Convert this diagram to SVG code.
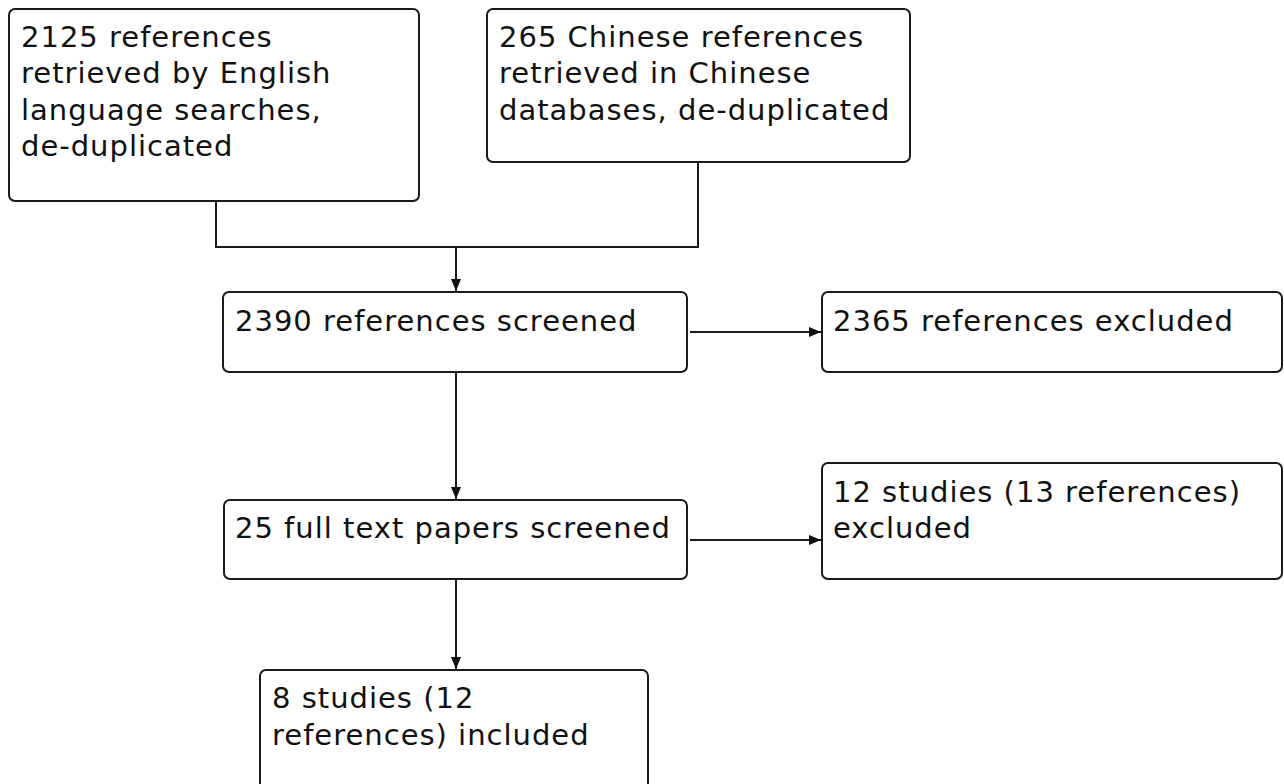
<svg xmlns="http://www.w3.org/2000/svg" width="1284" height="784" viewBox="0 0 1284 784">
<style>
.box{fill:#fff;stroke:#1a1a1a;stroke-width:2}
.t{font-family:"DejaVu Sans",sans-serif;font-size:29px;letter-spacing:1px;fill:#111}
.c{fill:none;stroke:#1a1a1a;stroke-width:2}
</style>
<defs>
<marker id="ah" viewBox="0 0 12 10" refX="12" refY="5" markerWidth="6" markerHeight="5" orient="auto" markerUnits="strokeWidth">
<path d="M0,0 L12,5 L0,10 z" fill="#111"/>
</marker>
</defs>
<rect width="1284" height="784" fill="#fff"/>
<g id="connectors">
<path class="c" d="M216,201 V247 H698 V162"/>
<path class="c" d="M456,247 V291" marker-end="url(#ah)"/>
<path class="c" d="M690,332 H821" marker-end="url(#ah)"/>
<path class="c" d="M456,372 V499" marker-end="url(#ah)"/>
<path class="c" d="M690,540 H821" marker-end="url(#ah)"/>
<path class="c" d="M456,579 V669" marker-end="url(#ah)"/>
</g>
<g id="n1">
<rect class="box" x="9" y="9" width="410" height="192" rx="6"/>
<text class="t" x="21" y="46.5">2125 references</text>
<text class="t" x="21" y="83">retrieved by English</text>
<text class="t" x="21" y="119.5">language searches,</text>
<text class="t" x="21" y="156">de-duplicated</text>
</g>
<g id="n2">
<rect class="box" x="487" y="9" width="423" height="153" rx="6"/>
<text class="t" x="499" y="46.5">265 Chinese references</text>
<text class="t" x="499" y="83">retrieved in Chinese</text>
<text class="t" x="499" y="119.5">databases, de-duplicated</text>
</g>
<g id="n3">
<rect class="box" x="223" y="292" width="464" height="80" rx="6"/>
<text class="t" x="235" y="331">2390 references screened</text>
</g>
<g id="n4">
<rect class="box" x="822" y="292" width="460" height="80" rx="6"/>
<text class="t" x="833" y="331">2365 references excluded</text>
</g>
<g id="n5">
<rect class="box" x="224" y="500" width="463" height="79" rx="6"/>
<text class="t" x="235" y="538">25 full text papers screened</text>
</g>
<g id="n6">
<rect class="box" x="822" y="463" width="460" height="116" rx="6"/>
<text class="t" x="833" y="501.5">12 studies (13 references)</text>
<text class="t" x="833" y="538">excluded</text>
</g>
<g id="n7">
<rect class="box" x="260" y="670" width="388" height="130" rx="6"/>
<text class="t" x="272" y="708">8 studies (12</text>
<text class="t" x="272" y="744.5">references) included</text>
</g>
</svg>
